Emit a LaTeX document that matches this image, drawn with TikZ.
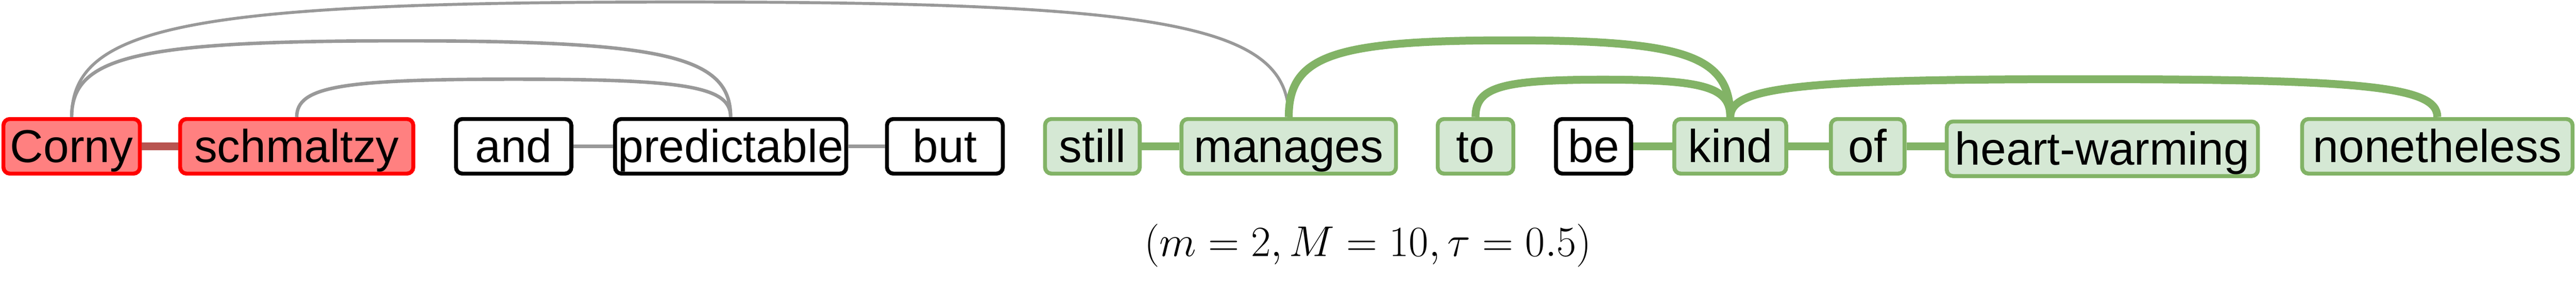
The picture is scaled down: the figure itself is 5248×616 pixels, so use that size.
\documentclass[tikz,border=0pt]{standalone}
\usepackage{fontspec}
\setmainfont{Liberation Sans}
\usetikzlibrary{calc}
\definecolor{redLine}{HTML}{FF0000}
\definecolor{redFill}{HTML}{FF8080}
\definecolor{redLink}{HTML}{B85450}
\definecolor{greenLine}{HTML}{82B366}
\definecolor{greenFill}{HTML}{D5E8D4}
\definecolor{grayLink}{HTML}{999999}
\begin{document}
\begin{tikzpicture}
[x=0.1mm, y=0.1mm,%
  wordDecorate/.style={shape=rectangle,rounded corners=1.3mm,line width=0.8mm,
    inner sep=0pt,minimum height=11.1mm,text height=6.5mm,text depth=0mm,
    font=\fontsize{26.7pt}{32pt}\selectfont},
  redWord/.style={wordDecorate,draw=redLine,fill=redFill},
  plainWord/.style={wordDecorate,draw=black,fill=white},
  greenWord/.style={wordDecorate,draw=greenLine,fill=greenFill},
  arcDecorate/.style={to path={.. controls +(0,0.8*#1)
    and ($(\tikztostart)!0.1!(\tikztotarget)+(0,#1)$)
    .. ($(\tikztostart)!0.5!(\tikztotarget)+(0,#1)$)
    .. controls ($(\tikztostart)!0.9!(\tikztotarget)+(0,#1)$)
    and +(0,0.8*#1) .. (\tikztotarget)}}]
\useasboundingbox (0,0) rectangle (5248,616);
%% words
\foreach \nodename/\word/\x/\y/\w/\kind in {
  corny/Corny/146/318.5/278/redWord,
  schmaltzy/schmaltzy/604.5/318.5/475/redWord,
  and/and/1046.5/318.5/235/plainWord,
  predictable/predictable/1488.5/318.5/471/plainWord,
  but/but/1925/318.5/236/plainWord,
  still/still/2225.5/318.5/193/greenWord,
  manages/manages/2625.5/318.5/437/greenWord,
  to/to/3006/318.5/154/greenWord,
  be/be/3246.5/318.5/153/plainWord,
  kind/kind/3525/318.5/228/greenWord,
  of/of/3805/318.5/150/greenWord,
  heart/heart-warming/4283/313.5/634/greenWord,
  nonetheless/nonetheless/4965.5/318.5/551/greenWord}
{
  \node (\nodename) at (\x,\y) [\kind,minimum width=0.1mm*\w] {\word};
}
%% links between neighbours
\foreach \startnode/\endnode/\col/\wd in {
  corny/schmaltzy/redLink/15, and/predictable/grayLink/8,
  predictable/but/grayLink/8, still/manages/greenLine/15,
  be/kind/greenLine/15, kind/of/greenLine/15, of/heart/greenLine/15}
{
  \draw[draw=\col,line width=0.1mm*\wd] (\startnode.east) -- (\startnode.east -| \endnode.west);
}
%% arcs
\foreach \startnode/\endnode/\lvl/\wd/\col in {
  corny/manages/234/6/grayLink, corny/predictable/155/7/grayLink,
  schmaltzy/predictable/77/7/grayLink, manages/kind/156/16/greenLine,
  to/kind/76/16/greenLine, kind/nonetheless/77/16/greenLine}
{
  \draw[arcDecorate=\lvl,draw=\col,line width=0.1mm*\wd] (\startnode.north) to (\endnode.north);
}
\node (caption) at (2787,95) [anchor=base,font=\fontsize{24.88pt}{30pt}\selectfont]
  {$(m=2,M=10,\tau=0.5)$};
\end{tikzpicture}
\end{document}
